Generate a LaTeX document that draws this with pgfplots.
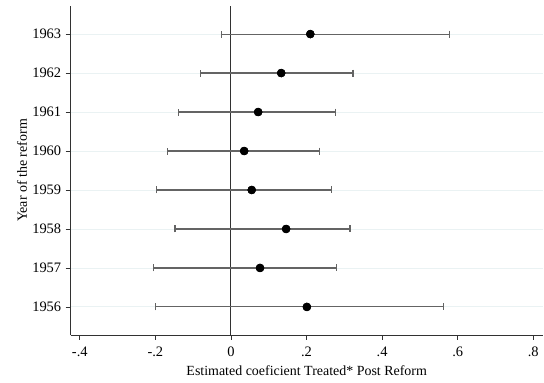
\documentclass[border=0pt]{standalone}
\usepackage{fontspec}
\setmainfont{Liberation Serif}
\usepackage{pgfplots}
\pgfplotsset{compat=1.18}
\usepackage{pgfplotstable}
\definecolor{gridc}{RGB}{234,242,243}
\definecolor{axc}{RGB}{50,50,50}
\definecolor{barc}{RGB}{100,100,100}
\pgfplotstableread{
yr b lo hi
1963 0.210 -0.026 0.578
1962 0.133 -0.081 0.323
1961 0.072 -0.139 0.277
1960 0.035 -0.167 0.235
1959 0.055 -0.196 0.267
1958 0.146 -0.148 0.315
1957 0.077 -0.206 0.279
1956 0.201 -0.199 0.562
}\coef
\pgfplotstablecreatecol[expr={\thisrow{b}-\thisrow{lo}}]{em}\coef
\pgfplotstablecreatecol[expr={\thisrow{hi}-\thisrow{b}}]{ep}\coef
\begin{document}
\begin{tikzpicture}
\begin{axis}[
  scale only axis,
  width=472bp, height=329bp,
  xmin=-0.424, xmax=0.825,
  ymin=1955.28, ymax=1963.72,
  axis x line*=bottom, axis y line*=left,
  axis line style={draw=axc, line width=0.9pt, -},
  xtick={-0.4,-0.2,0,0.2,0.4,0.6,0.8},
  xticklabels={-.4,-.2,0,.2,.4,.6,.8},
  ytick={1956,1957,1958,1959,1960,1961,1962,1963},
  yticklabels={1956,1957,1958,1959,1960,1961,1962,1963},
  tick align=outside,
  major tick length=5bp,
  tick style={draw=axc, line width=0.8pt},
  ymajorgrids, grid style={draw=gridc, line width=0.9pt},
  ticklabel style={font=\fontsize{14.5}{16}\selectfont, text=black},
  xticklabel style={anchor=base, yshift=-17bp},
  yticklabel style={anchor=east, xshift=-1bp},
  xlabel={Estimated coeficient Treated* Post Reform},
  ylabel={Year of the reform},
  label style={font=\fontsize{14}{16}\selectfont},
  xlabel style={at={(axis description cs:0.5,-0.1216)}, anchor=base},
  ylabel style={at={(axis description cs:-0.0926,0.5)}, anchor=base, rotate=0},
  clip=false,
]
\draw[axc, line width=0.9pt] (axis cs:0,1955.28) -- (axis cs:0,1963.72);
\addplot[only marks, mark=*, mark size=4bp, black, mark options={fill=black, draw=black},
  error bars/.cd, x dir=both, x explicit, error mark=|,
  error bar style={draw=barc, line width=1.1pt},
  error mark options={draw=barc, line width=1.1pt, mark size=3.5bp}]
  table[x=b, y=yr, x error plus=ep, x error minus=em]{\coef};
\addplot[only marks, mark=*, mark size=4bp, black, mark options={fill=black, draw=black}]
  table[x=b, y=yr]{\coef};
\end{axis}
\pgfresetboundingbox
\path[use as bounding box] ([xshift=-70.7bp,yshift=-48bp]current axis.south west) rectangle ([xshift=1.3bp,yshift=6bp]current axis.north east);
\end{tikzpicture}
\end{document}
